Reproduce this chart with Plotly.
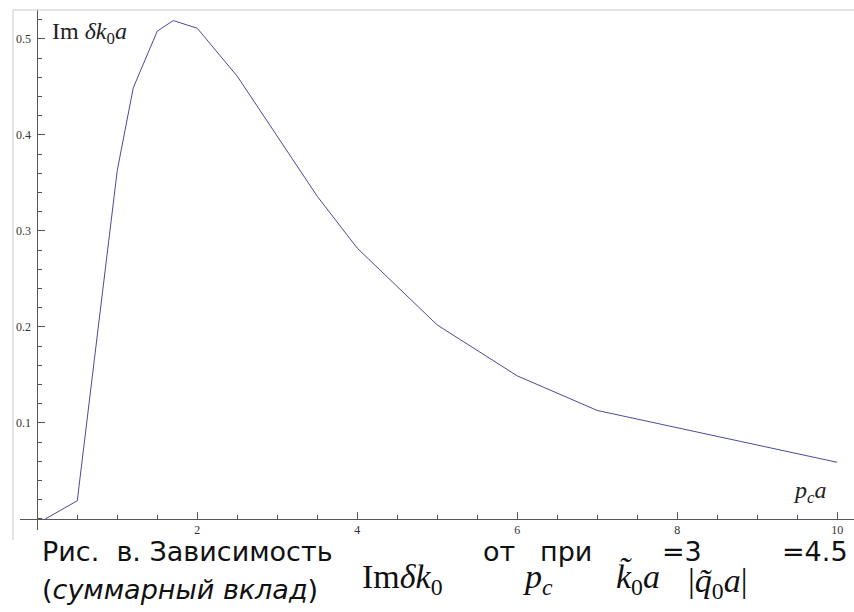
import plotly.graph_objects as go

# ---- data ----
pc_a = [0.1, 0.5, 1.0, 1.2, 1.5, 1.7, 2.0, 2.5, 3.5, 4.0, 5.0, 6.0, 7.0, 10.0]
im_dk0a = [0.0, 0.019, 0.363, 0.449, 0.508, 0.519, 0.511, 0.461, 0.336, 0.282, 0.202, 0.149, 0.113, 0.059]

x_tickvals = [2, 4, 6, 8, 10]
x_ticktext = ["2", "4", "6", "8", "10"]
y_tickvals = [0.1, 0.2, 0.3, 0.4, 0.5]
y_ticktext = ["0.1", "0.2", "0.3", "0.4", "0.5"]

W, H = 854, 612
L, R, T, B = 20, 0, 10, 82
PW, PH = W - L - R, H - T - B


def px(xp):
    return (xp - L) / PW


def py(yp):
    return (H - B - yp) / PH


X_RANGE = [-0.216, 10.21]
Y_RANGE = [-0.0115, 0.530]

fig = go.Figure()
fig.add_trace(go.Scatter(
    x=pc_a, y=im_dk0a, mode="lines",
    line=dict(color="#4a4a9c", width=1),
    showlegend=False, hoverinfo="skip",
))

axis_col = "#555555"
tick_font = dict(family="Liberation Serif", size=12, color="#333333")

fig.update_layout(
    width=W, height=H,
    margin=dict(l=L, r=R, t=T, b=B, pad=0),
    paper_bgcolor="white", plot_bgcolor="white",
    xaxis=dict(
        range=X_RANGE, anchor="free", position=py(519),
        showgrid=False, zeroline=False, showline=True,
        linecolor=axis_col, linewidth=1,
        tickmode="array", tickvals=x_tickvals, ticktext=x_ticktext,
        ticks="inside", ticklen=7, tickcolor=axis_col, tickwidth=1,
        tickfont=tick_font,
        minor=dict(tickmode="linear", tick0=0, dtick=0.5, ticks="inside",
                   ticklen=4, tickcolor=axis_col, tickwidth=1),
    ),
    yaxis=dict(
        range=Y_RANGE, anchor="free", position=px(37.3),
        showgrid=False, zeroline=False, showline=True,
        linecolor=axis_col, linewidth=1,
        tickmode="array", tickvals=y_tickvals, ticktext=y_ticktext,
        ticks="inside", ticklen=7, tickcolor=axis_col, tickwidth=1,
        tickfont=tick_font, ticklabelstandoff=4,
        minor=dict(tickmode="linear", tick0=0, dtick=0.02, ticks="inside",
                   ticklen=4, tickcolor=axis_col, tickwidth=1),
    ),
)

# light page frame lines
fig.add_shape(type="line", xref="paper", yref="paper",
              x0=px(13), x1=px(854), y0=py(10), y1=py(10),
              line=dict(color="#c8c8c8", width=1))
fig.add_shape(type="line", xref="paper", yref="paper",
              x0=px(13), x1=px(13), y0=py(10), y1=py(540),
              line=dict(color="#c8c8c8", width=1))

serif = "Liberation Serif"
sans = "DejaVu Sans"


def note(text, x, y, size, family, color="#111111", yanchor="bottom"):
    fig.add_annotation(text=text, xref="paper", yref="paper",
                       x=px(x), y=py(y), xanchor="left", yanchor=yanchor,
                       showarrow=False,
                       font=dict(family=family, size=size, color=color))


# axis labels inside plot
note("Im <i>δk</i><sub>0</sub><i>a</i>", 50, 50, 24, serif, "#222222")
note("<i>p<sub>c</sub>a</i>", 791, 509, 24, serif, "#222222")

# caption line 1
cap = 27
note("Рис.  в. Зависимость", 40, 569, cap, sans)
note("от", 481, 569, cap, sans)
note("при", 538, 569, cap, sans)
note("=3", 660, 569, cap, sans)
note("=4.5", 780, 569, cap, sans)
# caption line 2
note("(<i>суммарный вклад</i>)", 40, 607, cap, sans)
# formula pieces
fsz = 34
note("Im<i>δk</i><sub>0</sub>", 360, 602, fsz, serif)
note("<i>p<sub>c</sub></i>", 521, 602, fsz, serif)
note("<i>k̃</i><sub>0</sub><i>a</i>", 614, 602, fsz, serif)
note("|<i>q̃</i><sub>0</sub><i>a</i>|", 686, 606, fsz, serif)

fig.write_html("out.html")
